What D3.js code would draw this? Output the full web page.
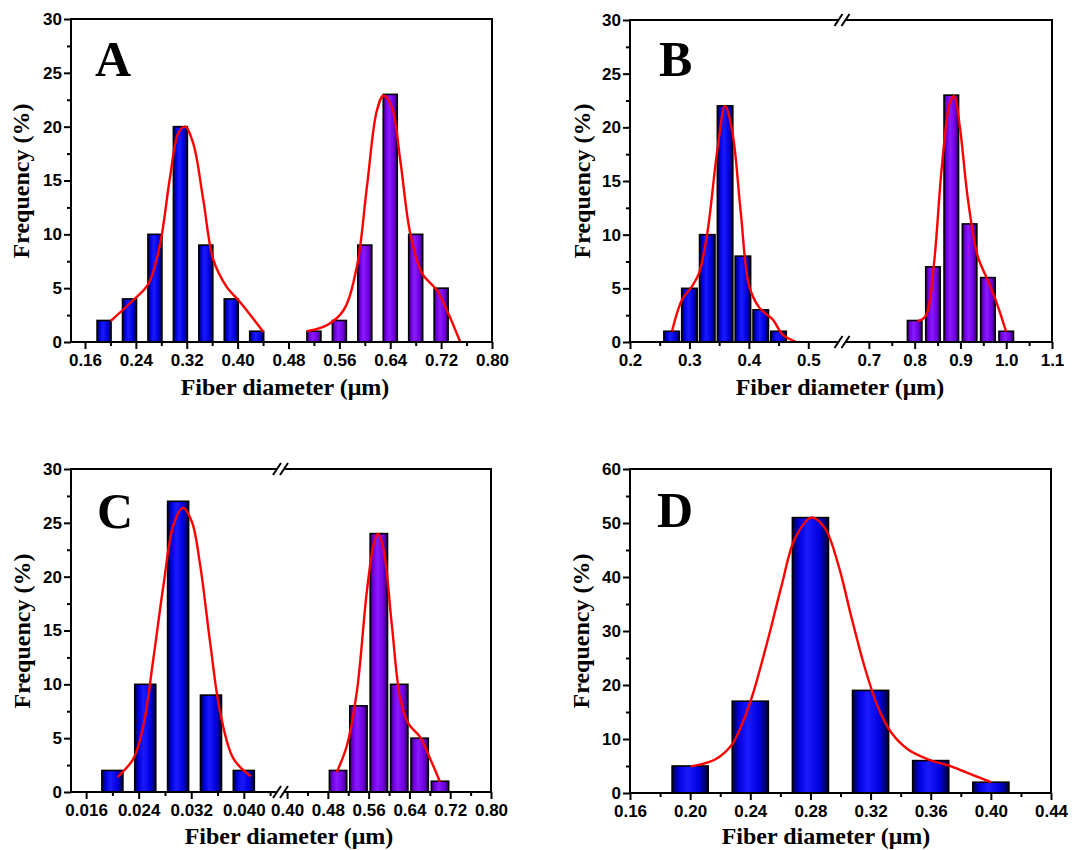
<!DOCTYPE html>
<html><head><meta charset="utf-8">
<script src="https://cdn.jsdelivr.net/npm/d3@7"></script>
<style>body{margin:0;background:#fff} svg{display:block}</style>
</head><body><svg id="c" width="1084" height="850"></svg>
<script>
// ---------- DATA ----------
// Panel A
const aBlueX   = [0.19,0.23,0.27,0.31,0.35,0.39,0.43];
const aBlueY   = [2,4,10,20,9,4,1];
const aPurpX   = [0.52,0.56,0.60,0.64,0.68,0.72];
const aPurpY   = [1,2,9,23,10,5];
const aFit1X   = [0.2004,0.236,0.2597,0.278,0.2937,0.3068,0.3174,0.3304,0.346,0.362,0.383,0.404,0.4406];
const aFit1Y   = [1.95,3.9,5.4,9.1,15.3,19.4,20.0,18.4,13.2,7.6,5.1,3.7,0.93];
const aFit2X   = [0.5089,0.5403,0.5665,0.5875,0.6033,0.619,0.6294,0.6426,0.6557,0.6714,0.6898,0.7134,0.7317,0.750];
const aFit2Y   = [1.0,1.55,2.95,7.0,14.4,21.5,22.9,21.8,16.9,10.1,6.4,4.8,2.6,0];
const aTicks   = [0.16,0.24,0.32,0.40,0.48,0.56,0.64,0.72,0.80];
const aMinor   = [0.20,0.28,0.36,0.44,0.52,0.60,0.68,0.76];
// Panel B
const bBlueX   = [0.27,0.30,0.33,0.36,0.39,0.42,0.45];
const bBlueY   = [1,5,10,22,8,3,1];
const bPurpX   = [0.80,0.84,0.88,0.92,0.96,1.00];
const bPurpY   = [2,7,23,11,6,1];
const bFit1X   = [0.2707,0.2876,0.3046,0.316,0.330,0.347,0.360,0.3724,0.3865,0.4006,0.4176,0.4402,0.457,0.4797];
const bFit1Y   = [0.99,3.94,5.2,6.4,10.1,17.9,22.0,19.5,12.0,5.2,3.2,2.1,0.68,0];
const bFit2X   = [0.8058,0.8236,0.8414,0.8593,0.877,0.8863,0.8985,0.9163,0.9377,0.9591,0.977,0.9996];
const bFit2Y   = [1.92,2.4,7.0,16.3,22.3,22.9,20.1,13.3,8.0,5.8,3.9,1.0];
const bTicksL  = [0.2,0.3,0.4,0.5];
const bMinorL  = [0.25,0.35,0.45];
const bTicksR  = [0.7,0.8,0.9,1.0,1.1];
const bMinorR  = [0.75,0.85,0.95,1.05];
// Panel C
const cBlueX   = [0.020,0.025,0.030,0.035,0.040];
const cBlueY   = [2,10,27,9,2];
const cPurpX   = [0.50,0.54,0.58,0.62,0.66,0.70];
const cPurpY   = [2,8,24,10,5,1];
const cFit1X   = [0.02076,0.0232,0.02472,0.02624,0.02777,0.02929,0.03072,0.03209,0.03335,0.03487,0.0364,0.03842,0.04107];
const cFit1Y   = [1.39,3.1,6.2,12.4,19.2,24.8,26.4,25.1,21.1,13.9,7.4,3.1,1.46];
const cFit2X   = [0.4976,0.5172,0.5368,0.5564,0.5694,0.578,0.589,0.6055,0.6218,0.638,0.661,0.6806,0.70];
const cFit2Y   = [1.86,4.3,9.3,18.6,22.9,24.0,22.6,15.5,8.7,6.35,5.1,3.1,0.93];
const cTicksL  = [0.016,0.024,0.032,0.040];
const cMinorL  = [0.020,0.028,0.036,0.044];
const cTicksR  = [0.40,0.48,0.56,0.64,0.72,0.80];
const cMinorR  = [0.44,0.52,0.60,0.68,0.76];
// Panel D
const dBarX    = [0.20,0.24,0.28,0.32,0.36,0.40];
const dBarY    = [5,17,51,19,6,2];
const dFitX    = [0.2004,0.2165,0.2276,0.2343,0.2409,0.252,0.2609,0.2698,0.2808,0.2897,0.2986,0.3074,0.3163,0.3252,0.334,0.3452,0.3585,0.374,0.3873,0.4001];
const dFitY    = [4.93,6.2,8.9,12.6,17.6,28.7,38.5,47.2,51.0,49.0,42.2,32.4,23.1,15.7,11.1,8.0,6.2,4.9,3.4,2.0];
const dTicks   = [0.16,0.20,0.24,0.28,0.32,0.36,0.40,0.44];
const dMinor   = [0.18,0.22,0.26,0.30,0.34,0.38,0.42];
// y ticks
const yTicks30 = [0,5,10,15,20,25,30];
const yMinor30 = [2.5,7.5,12.5,17.5,22.5,27.5];
const yTicks60 = [0,10,20,30,40,50,60];
const yMinor60 = [5,15,25,35,45,55];
const letters  = ["A","B","C","D"];
const xTitle   = "Fiber diameter (\u03bcm)";
const yTitle   = "Frequency (%)";

// ---------- LAYOUT ----------
const panels = [
  {letter:letters[0], l:71, r:492, t:19, b:342, yMax:30, yT:yTicks30, yM:yMinor30,
   segs:[{dom:[0.138,0.80], rng:[71,492], major:aTicks, minor:aMinor, fmt:".2f"}],
   bars:[{x:aBlueX,y:aBlueY,w:0.022,g:"gB"},{x:aPurpX,y:aPurpY,w:0.022,g:"gP"}],
   fits:[[aFit1X,aFit1Y],[aFit2X,aFit2Y]],
   lx:95, ly:76, xtx:285, xty:395, ytx:29, yty:181},
  {letter:letters[1], l:630, r:1052, t:20, b:342, yMax:30, yT:yTicks30, yM:yMinor30,
   segs:[{dom:[0.2,0.55], rng:[630,838], major:bTicksL, minor:bMinorL, fmt:".1f"},
         {dom:[0.65,1.1], rng:[846,1052], major:bTicksR, minor:bMinorR, fmt:".1f"}],
   bars:[{x:bBlueX,y:bBlueY,w:0.026,g:"gB"},{x:bPurpX,y:bPurpY,w:0.0317,g:"gP"}],
   fits:[[bFit1X,bFit1Y],[bFit2X,bFit2Y]],
   lx:659, ly:76, xtx:840, xty:395, ytx:590, yty:181},
  {letter:letters[2], l:71, r:491, t:469, b:792, yMax:30, yT:yTicks30, yM:yMinor30,
   segs:[{dom:[0.0137,0.0452], rng:[71,278], major:cTicksL, minor:cMinorL, fmt:".3f"},
         {dom:[0.392,0.80], rng:[283,491], major:cTicksR, minor:cMinorR, fmt:".2f"}],
   bars:[{x:cBlueX,y:cBlueY,w:0.0032,g:"gB"},{x:cPurpX,y:cPurpY,w:0.034,g:"gP"}],
   fits:[[cFit1X,cFit1Y],[cFit2X,cFit2Y]],
   lx:97, ly:528, xtx:289, xty:844, ytx:30, yty:631},
  {letter:letters[3], l:630, r:1051, t:469, b:793, yMax:60, yT:yTicks60, yM:yMinor60,
   segs:[{dom:[0.16,0.44], rng:[630,1051], major:dTicks, minor:dMinor, fmt:".2f"}],
   bars:[{x:dBarX,y:dBarY,w:0.024,g:"gB"}],
   fits:[[dFitX,dFitY]],
   lx:657, ly:527, xtx:826, xty:844, ytx:589, yty:631}
];

const svg = d3.select("#c");
const defs = svg.append("defs");
function grad(id, dark, mid, bright){
  const g = defs.append("linearGradient").attr("id",id).attr("x1","0").attr("x2","1").attr("y1","0").attr("y2","0");
  [[0,dark],[0.18,mid],[0.42,bright],[0.75,mid],[1,dark]].forEach(([o,c])=>
    g.append("stop").attr("offset",o).attr("stop-color",c));
}
grad("gB","#000033","#0000dd","#1a1aff");
grad("gP","#2a0055","#7000e0","#8a1aff");

panels.forEach(p=>{
  const g = svg.append("g");
  const y = d3.scaleLinear().domain([0,p.yMax]).range([p.b,p.t]);
  const scales = p.segs.map(s=>d3.scaleLinear().domain(s.dom).range(s.rng));
  const segOf = v => { for(let i=0;i<p.segs.length;i++){ const d=p.segs[i].dom; if(v>=d[0]-1e-9 && v<=d[1]+1e-9) return i;} return 0; };
  const xOf = v => scales[segOf(v)](v);

  // bars
  p.bars.forEach(bs=>{
    const data = bs.x.map((v,i)=>({x:v,y:bs.y[i]}));
    g.selectAll(null).data(data).enter().append("rect")
      .attr("x", d=>{const s=scales[segOf(d.x)]; return s(d.x-bs.w/2);})
      .attr("width", d=>{const s=scales[segOf(d.x)]; return s(d.x+bs.w/2)-s(d.x-bs.w/2);})
      .attr("y", d=>y(d.y)).attr("height", d=>y(0)-y(d.y))
      .attr("fill","url(#"+bs.g+")").attr("stroke","#000").attr("stroke-width",1.6);
  });

  // fits
  const line = d3.line().x(d=>xOf(d[0])).y(d=>y(d[1])).curve(d3.curveCatmullRom.alpha(0.5));
  p.fits.forEach(([fx,fy])=>{
    g.append("path").attr("d", line(fx.map((v,i)=>[v,fy[i]])))
      .attr("fill","none").attr("stroke","#ff0000").attr("stroke-width",2.4);
  });

  // x axes
  p.segs.forEach((s,i)=>{
    const sc = scales[i];
    g.append("g").attr("transform",`translate(0,${p.b})`)
      .call(d3.axisBottom(sc).tickValues(s.minor).tickSize(4).tickFormat(""))
      .call(a=>a.select(".domain").remove());
    g.append("g").attr("transform",`translate(0,${p.b})`)
      .call(d3.axisBottom(sc).tickValues(s.major).tickSize(7).tickPadding(5).tickFormat(d3.format(s.fmt)))
      .call(a=>a.select(".domain").remove());
  });
  // y axis
  g.append("g").attr("transform",`translate(${p.l},0)`)
    .call(d3.axisLeft(y).tickValues(p.yM).tickSize(4).tickFormat(""))
    .call(a=>a.select(".domain").remove());
  g.append("g").attr("transform",`translate(${p.l},0)`)
    .call(d3.axisLeft(y).tickValues(p.yT).tickSize(7).tickPadding(2).tickFormat(d3.format("d")))
    .call(a=>a.select(".domain").remove());

  g.selectAll(".tick line").attr("stroke","#000").attr("stroke-width",2);
  g.selectAll(".tick text")
    .attr("font-family","'Liberation Sans', Arial, sans-serif")
    .attr("font-weight","bold").attr("font-size",17).attr("fill","#000");

  // frame
  const fr = g.append("g").attr("stroke","#000").attr("stroke-width",2).attr("fill","none");
  fr.append("line").attr("x1",p.l).attr("x2",p.l).attr("y1",p.t).attr("y2",p.b+1);
  fr.append("line").attr("x1",p.r).attr("x2",p.r).attr("y1",p.t).attr("y2",p.b);
  if(p.segs.length===1){
    [p.t,p.b].forEach(yy=>fr.append("line").attr("x1",p.l-1).attr("x2",p.r+1).attr("y1",yy).attr("y2",yy));
  } else {
    const xm = (p.segs[0].rng[1]+p.segs[1].rng[0])/2;
    [p.t,p.b].forEach(yy=>{
      fr.append("line").attr("x1",p.l-1).attr("x2",xm-4).attr("y1",yy).attr("y2",yy);
      fr.append("line").attr("x1",xm+4).attr("x2",p.r+1).attr("y1",yy).attr("y2",yy);
      [-3.5,3.5].forEach(dx=>fr.append("line")
        .attr("x1",xm+dx-4).attr("y1",yy+6).attr("x2",xm+dx+4).attr("y2",yy-6));
    });
  }

  // titles
  const serif = "'Liberation Serif', 'Times New Roman', serif";
  g.append("text").attr("x",p.xtx).attr("y",p.xty).attr("text-anchor","middle")
    .attr("font-family",serif).attr("font-weight","bold").attr("font-size",24).text(xTitle);
  g.append("text").attr("transform",`translate(${p.ytx},${p.yty}) rotate(-90)`).attr("text-anchor","middle")
    .attr("font-family",serif).attr("font-weight","bold").attr("font-size",24).text(yTitle);
  g.append("text").attr("x",p.lx).attr("y",p.ly)
    .attr("font-family",serif).attr("font-weight","bold").attr("font-size",50).text(p.letter);
});
</script></body></html>
